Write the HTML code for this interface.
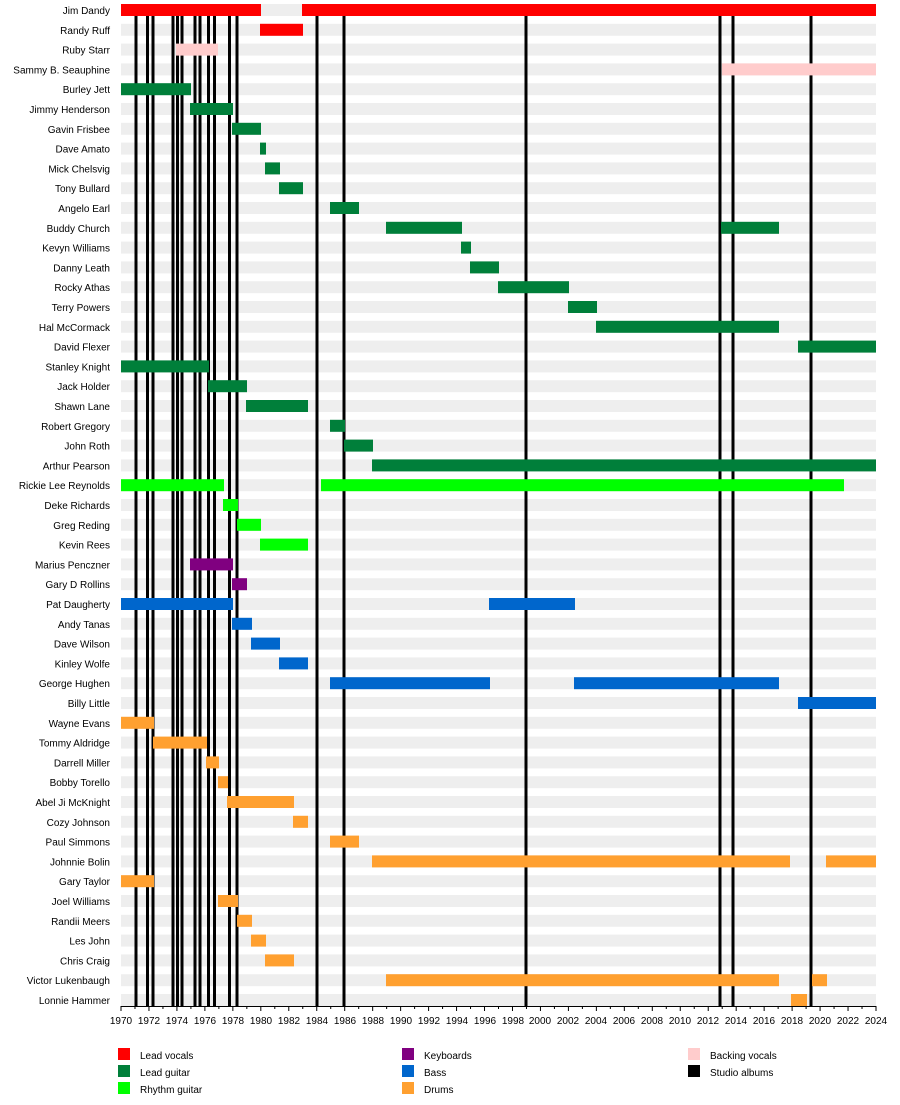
<!DOCTYPE html>
<html><head><meta charset="utf-8"><style>
body{margin:0;background:#fff}
svg{display:block;font-family:"Liberation Sans",sans-serif;font-size:10px}
</style></head><body>
<svg id="s" width="900" height="1105" xmlns="http://www.w3.org/2000/svg">
<g id="bands"></g><g id="alb"></g><g id="bars"></g><g id="axis"></g>
<g text-anchor="end" fill="#000">
<text x="110" y="14">Jim Dandy</text><text x="110" y="33.8">Randy Ruff</text><text x="110" y="53.6">Ruby Starr</text><text x="110" y="73.4">Sammy B. Seauphine</text><text x="110" y="93.2">Burley Jett</text><text x="110" y="113">Jimmy Henderson</text><text x="110" y="132.8">Gavin Frisbee</text><text x="110" y="152.6">Dave Amato</text><text x="110" y="172.4">Mick Chelsvig</text><text x="110" y="192.2">Tony Bullard</text><text x="110" y="212">Angelo Earl</text><text x="110" y="231.8">Buddy Church</text><text x="110" y="251.6">Kevyn Williams</text><text x="110" y="271.4">Danny Leath</text><text x="110" y="291.2">Rocky Athas</text><text x="110" y="311">Terry Powers</text><text x="110" y="330.8">Hal McCormack</text><text x="110" y="350.6">David Flexer</text><text x="110" y="370.4">Stanley Knight</text><text x="110" y="390.2">Jack Holder</text><text x="110" y="410">Shawn Lane</text><text x="110" y="429.8">Robert Gregory</text><text x="110" y="449.6">John Roth</text><text x="110" y="469.4">Arthur Pearson</text><text x="110" y="489.2">Rickie Lee Reynolds</text><text x="110" y="509">Deke Richards</text><text x="110" y="528.8">Greg Reding</text><text x="110" y="548.6">Kevin Rees</text><text x="110" y="568.4">Marius Penczner</text><text x="110" y="588.2">Gary D Rollins</text><text x="110" y="608">Pat Daugherty</text><text x="110" y="627.8">Andy Tanas</text><text x="110" y="647.6">Dave Wilson</text><text x="110" y="667.4">Kinley Wolfe</text><text x="110" y="687.2">George Hughen</text><text x="110" y="707">Billy Little</text><text x="110" y="726.8">Wayne Evans</text><text x="110" y="746.6">Tommy Aldridge</text><text x="110" y="766.4">Darrell Miller</text><text x="110" y="786.2">Bobby Torello</text><text x="110" y="806">Abel Ji McKnight</text><text x="110" y="825.8">Cozy Johnson</text><text x="110" y="845.6">Paul Simmons</text><text x="110" y="865.4">Johnnie Bolin</text><text x="110" y="885.2">Gary Taylor</text><text x="110" y="905">Joel Williams</text><text x="110" y="924.8">Randii Meers</text><text x="110" y="944.6">Les John</text><text x="110" y="964.4">Chris Craig</text><text x="110" y="984.2">Victor Lukenbaugh</text><text x="110" y="1004">Lonnie Hammer</text>
</g>
<g text-anchor="middle">
<text x="121" y="1024">1970</text><text x="149" y="1024">1972</text><text x="177" y="1024">1974</text><text x="205" y="1024">1976</text><text x="233" y="1024">1978</text><text x="261" y="1024">1980</text><text x="289" y="1024">1982</text><text x="317" y="1024">1984</text><text x="345" y="1024">1986</text><text x="373" y="1024">1988</text><text x="401" y="1024">1990</text><text x="429" y="1024">1992</text><text x="457" y="1024">1994</text><text x="485" y="1024">1996</text><text x="513" y="1024">1998</text><text x="540" y="1024">2000</text><text x="568" y="1024">2002</text><text x="596" y="1024">2004</text><text x="624" y="1024">2006</text><text x="652" y="1024">2008</text><text x="680" y="1024">2010</text><text x="708" y="1024">2012</text><text x="736" y="1024">2014</text><text x="764" y="1024">2016</text><text x="792" y="1024">2018</text><text x="820" y="1024">2020</text><text x="848" y="1024">2022</text><text x="876" y="1024">2024</text>
</g>
<rect x="118" y="1048" width="12" height="12" fill="#ff0000"/><text x="140" y="1059">Lead vocals</text>
<rect x="118" y="1065" width="12" height="12" fill="#007f3a"/><text x="140" y="1076">Lead guitar</text>
<rect x="118" y="1082" width="12" height="12" fill="#00ff00"/><text x="140" y="1093">Rhythm guitar</text>
<rect x="402" y="1048" width="12" height="12" fill="#800080"/><text x="424" y="1059">Keyboards</text>
<rect x="402" y="1065" width="12" height="12" fill="#0066cc"/><text x="424" y="1076">Bass</text>
<rect x="402" y="1082" width="12" height="12" fill="#ffa030"/><text x="424" y="1093">Drums</text>
<rect x="688" y="1048" width="12" height="12" fill="#ffcccc"/><text x="710" y="1059">Backing vocals</text>
<rect x="688" y="1065" width="12" height="12" fill="#000"/><text x="710" y="1076">Studio albums</text>
</svg>
<script>
var NS="http://www.w3.org/2000/svg";
function r(g,x,y,w,h,c){var e=document.createElementNS(NS,"rect");e.setAttribute("x",x);e.setAttribute("y",y);e.setAttribute("width",w);e.setAttribute("height",h);e.setAttribute("fill",c);document.getElementById(g).appendChild(e);}
var R="#ff0000",P="#ffcccc",G="#007f3a",L="#00ff00",V="#800080",B="#0066cc",O="#ffa030";
var d=[[[121,261,R],[302,876,R]],[[260,303,R]],[[176,218,P]],[[722,876,P]],[[121,191,G]],[[190,233,G]],[[232,261,G]],[[260,266,G]],[[265,280,G]],[[279,303,G]],[[330,359,G]],[[386,462,G],[721,779,G]],[[461,471,G]],[[470,499,G]],[[498,569,G]],[[568,597,G]],[[596,779,G]],[[798,876,G]],[[121,209,G]],[[208,247,G]],[[246,308,G]],[[330,345,G]],[[344,373,G]],[[372,876,G]],[[121,224,L],[321,844,L]],[[223,238,L]],[[237,261,L]],[[260,308,L]],[[190,233,V]],[[232,247,V]],[[121,233,B],[489,575,B]],[[232,252,B]],[[251,280,B]],[[279,308,B]],[[330,490,B],[574,779,B]],[[798,876,B]],[[121,154,O]],[[153,207,O]],[[206,219,O]],[[218,228,O]],[[227,294,O]],[[293,308,O]],[[330,359,O]],[[372,790,O],[826,876,O]],[[121,154,O]],[[218,238,O]],[[237,252,O]],[[251,266,O]],[[265,294,O]],[[386,779,O],[812,827,O]],[[791,807,O]]];
for(var i=0;i<51;i++){var c=10+i*19.8;r("bands",121,c-6,755,12,"#eeeeee");d[i].forEach(function(b){r("bars",b[0],c-6,b[1]-b[0],12,b[2]);});}
[136,147.5,153,173,177.5,182,195,200,208.5,214.5,229.5,237,317,344,526,720,733,811].forEach(function(x){r("alb",x-1.5,16,3,991,"#000");});
r("axis",121,1006,755,1,"#000");
for(var k=0;k<=54;k++){var x=121+k*755/54;r("axis",x-0.5,1006,1,k%2?3:5,"#000");}
</script>
</body></html>
